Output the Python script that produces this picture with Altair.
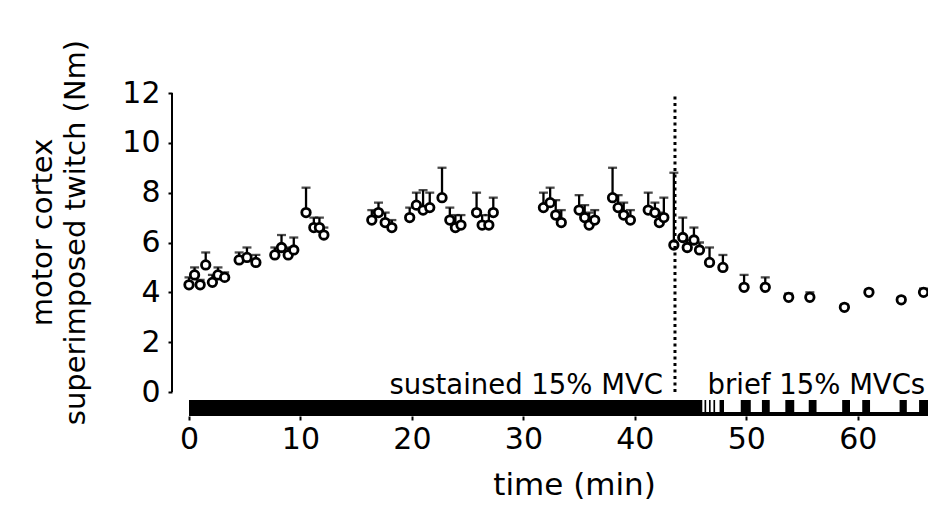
import altair as alt
import pandas as pd

# ---- data ----
times = [0.0, 0.5, 1.0, 1.5, 2.1, 2.6, 3.2,
         4.5, 5.2, 6.0,
         7.7, 8.3, 8.9, 9.4,
         10.5, 11.2, 11.7, 12.1,
         16.4, 17.0, 17.6, 18.2,
         19.8, 20.4, 21.0, 21.6,
         22.7, 23.4, 23.9, 24.4,
         25.8, 26.3, 26.9, 27.3,
         31.8, 32.4, 32.9, 33.4,
         35.0, 35.5, 35.9, 36.4,
         38.0, 38.5, 39.0, 39.6,
         41.2, 41.8, 42.2, 42.6,
         43.5, 44.3, 44.7, 45.3, 45.8,
         46.7, 47.9,
         49.8, 51.7, 53.8, 55.7, 58.8, 61.0, 63.9, 65.9]
means = [4.3, 4.7, 4.3, 5.1, 4.4, 4.7, 4.6,
         5.3, 5.4, 5.2,
         5.5, 5.8, 5.5, 5.7,
         7.2, 6.6, 6.6, 6.3,
         6.9, 7.2, 6.8, 6.6,
         7.0, 7.5, 7.3, 7.4,
         7.8, 6.9, 6.6, 6.7,
         7.2, 6.7, 6.7, 7.2,
         7.4, 7.6, 7.1, 6.8,
         7.3, 7.0, 6.7, 6.9,
         7.8, 7.4, 7.1, 6.9,
         7.3, 7.2, 6.8, 7.0,
         5.9, 6.2, 5.8, 6.1, 5.7,
         5.2, 5.0,
         4.2, 4.2, 3.8, 3.8, 3.4, 4.0, 3.7, 4.0]
sems = [0.3, 0.3, 0.2, 0.5, 0.3, 0.3, 0.2,
        0.3, 0.4, 0.3,
        0.3, 0.5, 0.3, 0.5,
        1.0, 0.4, 0.4, 0.3,
        0.4, 0.4, 0.4, 0.3,
        0.4, 0.5, 0.8, 0.6,
        1.2, 0.5, 0.5, 0.4,
        0.8, 0.4, 0.4, 0.6,
        0.6, 0.6, 0.6, 0.5,
        0.6, 0.5, 0.5, 0.4,
        1.2, 0.5, 0.5, 0.4,
        0.7, 0.4, 0.4, 0.8,
        2.9, 0.8, 0.3, 0.5, 0.3,
        0.6, 0.5,
        0.5, 0.4, 0.15, 0.2, 0.1, 0.1, 0.1, 0.15]

# contraction bouts (min)
bout_start = [0.0, 46.25, 46.65, 47.05, 47.6, 49.5, 51.4, 53.5, 55.6, 58.6, 60.4, 63.75, 65.5]
bout_end = [46.05, 46.4, 46.8, 47.2, 48.0, 50.4, 52.1, 54.3, 56.3, 59.3, 61.1, 64.4, 66.3]
sustained_end = 43.6

x_ticks = [0, 10, 20, 30, 40, 50, 60]
y_ticks = [0, 2, 4, 6, 8, 10, 12]
x_title = "time (min)"
y_title = ["motor cortex", "superimposed twitch (Nm)"]
phase_labels = ["sustained 15% MVC", "brief 15% MVCs"]

df = pd.DataFrame({"t": times, "m": means, "e": sems})
df["top"] = df["m"] + df["e"]
bouts = pd.DataFrame({"t": bout_start, "t2": bout_end})
one = pd.DataFrame({"k": [0]})

FONT = "DejaVu Sans"
W, H = 739, 299

xs = alt.Scale(domain=[0, 66.3], nice=False, zero=False)
ys = alt.Scale(domain=[0, 12], nice=False)

x_axis = alt.Axis(values=x_ticks, domain=False, offset=24, tickSize=4, tickWidth=2,
                  tickColor="black", grid=False, labelFont=FONT, labelFontSize=30,
                  labelColor="black", labelPadding=4, labelFlush=False,
                  title=x_title, titleFont=FONT, titleFontSize=31, titleFontWeight="normal",
                  titleColor="black", titleX=385, titleY=78, titleBaseline="alphabetic",
                  titleAlign="center")
y_axis = alt.Axis(values=y_ticks, domain=False, offset=17, tickSize=4, tickWidth=2,
                  tickColor="black", grid=False, labelFont=FONT, labelFontSize=30,
                  labelColor="black", labelPadding=8, labelFlush=False,
                  title=y_title, titleFont=FONT, titleFontSize=29, titleFontWeight="normal",
                  titleColor="black", titleLineHeight=33, titleX=-115, titleY=139,
                  titleAlign="center", titleBaseline="bottom", titleAngle=270)

X = alt.X("t:Q", scale=xs, axis=x_axis)
Y = alt.Y("m:Q", scale=ys, axis=y_axis)

errbars = alt.Chart(df).mark_rule(color="black", strokeWidth=2.3).encode(
    x=X, y=Y, y2="top:Q")
caps = alt.Chart(df).mark_tick(color="black", orient="horizontal", size=9, thickness=2.3).encode(
    x=X, y=alt.Y("top:Q", scale=ys, axis=y_axis))
points = alt.Chart(df).mark_point(shape="circle", filled=True, fill="white", stroke="black",
                                  strokeWidth=2.8, size=72, opacity=1).encode(x=X, y=Y)

bars = alt.Chart(bouts).mark_rect(color="black").encode(
    x=X, x2="t2:Q", y=alt.value(H + 8), y2=alt.value(H + 24))
baseline = alt.Chart(one).mark_rect(color="black").encode(
    x=alt.datum(bout_start[0]), x2=alt.datum(bout_end[-1]),
    y=alt.value(H + 20), y2=alt.value(H + 24))

dotted = alt.Chart(one).mark_rule(color="black", strokeWidth=3, strokeDash=[3, 3.5]).encode(
    x=alt.datum(sustained_end), y=alt.datum(y_ticks[0]), y2=alt.datum(y_ticks[-1]))
yline = alt.Chart(one).mark_rule(color="black", strokeWidth=2).encode(
    x=alt.value(-17), y=alt.datum(y_ticks[0]), y2=alt.datum(y_ticks[-1]))

lab1 = alt.Chart(one).mark_text(font=FONT, fontSize=27.5, align="right", baseline="alphabetic",
                                dx=-12, color="black").encode(
    x=alt.datum(sustained_end), y=alt.value(H + 2), text=alt.value(phase_labels[0]))
lab2 = alt.Chart(one).mark_text(font=FONT, fontSize=27.5, align="left", baseline="alphabetic",
                                dx=3, color="black").encode(
    x=alt.datum(bout_start[1]), y=alt.value(H + 2), text=alt.value(phase_labels[1]))

chart = alt.layer(errbars, caps, points, bars, baseline, dotted, yline, lab1, lab2).properties(
    width=W, height=H,
    autosize=alt.AutoSizeParams(type="none"),
    padding={"left": 181, "top": 85, "right": 0, "bottom": 108},
    background="white",
).configure_view(stroke=None)

chart.save("out.html", embed_options={"renderer": "svg", "actions": False})
